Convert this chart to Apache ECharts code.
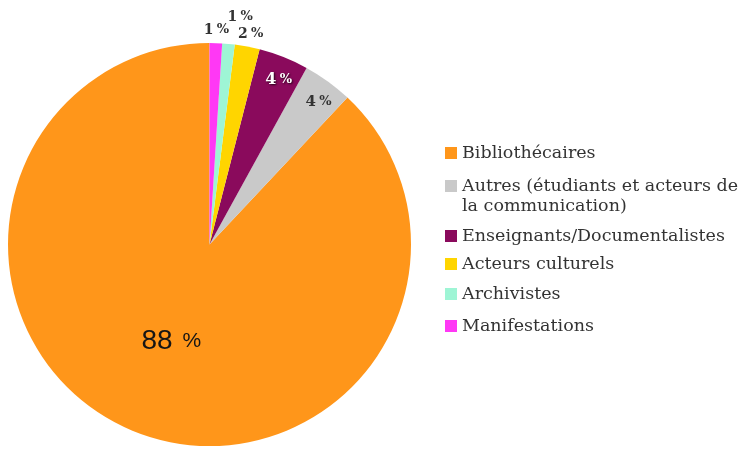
<!DOCTYPE html>
<html>
<head>
<meta charset="utf-8">
<script src="https://cdn.jsdelivr.net/npm/echarts@6/dist/echarts.min.js"></script>
<style>
html,body{margin:0;padding:0;background:#fff;}
#c{width:738px;height:451px;}
</style>
</head>
<body>
<div id="c"></div>
<script>
const categories = ['Bibliothécaires','Autres (étudiants et acteurs de la communication)','Enseignants/Documentalistes','Acteurs culturels','Archivistes','Manifestations'];
const legendLine1 = ['Bibliothécaires','Autres (étudiants et acteurs de','Enseignants/Documentalistes','Acteurs culturels','Archivistes','Manifestations'];
const legendLine2 = ['', 'la communication)', '', '', '', ''];
const values = [88, 4, 4, 2, 1, 1];
const colors = ['#FF961A', '#C9C9C9', '#8A0A5C', '#FFD500', '#9EF5D5', '#FF38F5'];

const C = [209.5, 244.5];
const R = 201.5;
const legendCenters = [153, 186, 236, 264, 294, 326];

const serif = 'DejaVu Serif';
const sans = 'Liberation Sans';

const shadow = {textShadowColor:'rgba(0,0,0,0.75)',textShadowBlur:2,textShadowOffsetX:1,textShadowOffsetY:1};

const mainData = categories.map((n,i)=>({
  name:n, value:values[i],
  itemStyle:{color:colors[i]},
  label: i===0 ? {show:true, position:'inside', formatter: p=>'{n|'+p.value+'}{p|%}',
    rich:{n:{fontFamily:sans,fontSize:28,color:'#151515'},p:{fontFamily:sans,fontSize:21,color:'#151515',padding:[0,0,0,10]}}} : {show:false}
}));

const midData = categories.map((n,i)=>{
  let lab = {show:false};
  if(i===1) lab = {show:true, position:'inside', formatter:p=>'{n|'+p.value+'} {p|%}',
    rich:{n:{fontFamily:serif,fontWeight:'bold',fontSize:15,color:'#333'},p:{fontFamily:serif,fontWeight:'bold',fontSize:13,color:'#333'}}};
  if(i===2) lab = {show:true, position:'inside', formatter:p=>'{n|'+p.value+'} {p|%}',
    rich:{n:Object.assign({fontFamily:serif,fontWeight:'bold',fontSize:16,color:'#fff'},shadow),
          p:Object.assign({fontFamily:serif,fontWeight:'bold',fontSize:13,color:'#fff'},shadow)}};
  return {name:n, value:values[i], itemStyle:{color:'rgba(0,0,0,0)'}, label:lab};
});

const outData = categories.map((n,i)=>{
  let lab = {show:false};
  if(i>=3) lab = {show:true, position:'inside', formatter:p=>'{n|'+p.value+'} {p|%}',
    rich:{n:{fontFamily:serif,fontWeight:'bold',fontSize:14,color:'#333'},p:{fontFamily:serif,fontWeight:'bold',fontSize:13,color:'#333'}}};
  return {name:n, value:values[i], itemStyle:{color:'rgba(0,0,0,0)'}, label:lab};
});

const legendFont = {fontFamily:serif, fontSize:17.5, color:'#333', lineHeight:20};

const legends = categories.map((n,i)=>({
  orient:'vertical', left:445, top: legendCenters[i]-10,
  padding:0, itemWidth:12, itemHeight:12, icon:'rect', selectedMode:false,
  data:[n],
  formatter: ()=>legendLine1[i],
  textStyle: legendFont
}));

const graphics = [];
legendLine2.forEach((t,i)=>{
  if(t) graphics.push({type:'text', left:462, top:legendCenters[i]+10,
    style:{text:t, font:'17.5px "DejaVu Serif"', fill:'#333', lineHeight:20}});
});

const common = {type:'pie', center:C, startAngle:90, clockwise:false, animation:false, silent:true,
  labelLine:{show:false}, emphasis:{disabled:true}, avoidLabelOverlap:false};

const chart = echarts.init(document.getElementById('c'), null, {renderer:'canvas'});
chart.setOption({
  backgroundColor:'#fff',
  legend: legends,
  graphic: graphics,
  series:[
    Object.assign({}, common, {name:'main', radius:[0,R], data:mainData}),
    Object.assign({}, common, {name:'mid', radius:[157,R], data:midData,
      labelLayout: p => ({dx:2, dy:5})}),
    Object.assign({}, common, {name:'out', radius:[R,231.5], data:outData,
      labelLayout: p => p.dataIndex===4 ? {dx:10, dy:-9} : {dy:5}})
  ]
});
</script>
</body>
</html>
